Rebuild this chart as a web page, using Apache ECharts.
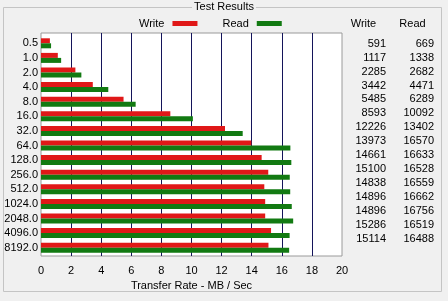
<!DOCTYPE html>
<html><head><meta charset="utf-8">
<script src="https://cdn.jsdelivr.net/npm/echarts@6/dist/echarts.min.js"></script>
<style>html,body{margin:0;padding:0;background:#f0f0f0}#c{width:448px;height:301px}</style>
</head><body><div id="c"></div>
<script>
const categories = ['0.5','1.0','2.0','4.0','8.0','16.0','32.0','64.0','128.0','256.0','512.0','1024.0','2048.0','4096.0','8192.0'];
const writeKB = [591,1117,2285,3442,5485,8593,12226,13973,14661,15100,14838,14896,14896,15286,15114];
const readKB  = [669,1338,2682,4471,6289,10092,13402,16570,16633,16528,16559,16662,16756,16519,16488];
const xTicks = [0,2,4,6,8,10,12,14,16,18,20];

const FONT = 'Liberation Sans';
const RED = '#e01818', GREEN = '#127a12';
const chart = echarts.init(document.getElementById('c'), null, {renderer:'canvas'});

const graphics = [
  {type:'rect', silent:true, shape:{x:3.5,y:7.5,width:438,height:284}, style:{fill:null, stroke:'#c4c4c4', lineWidth:1}},
  {type:'text', left:'center', x:0, top:1, style:{text:'Test Results', font:'11px '+FONT, fill:'#000', backgroundColor:'#f0f0f0', padding:[0,2]}, z:10},
  {type:'text', x:363.5, y:24, style:{text:'Write', font:'11px '+FONT, fill:'#000', align:'center', verticalAlign:'middle'}},
  {type:'text', x:412.5, y:24, style:{text:'Read', font:'11px '+FONT, fill:'#000', align:'center', verticalAlign:'middle'}}
];
for (let i = 0; i < categories.length; i++) {
  const y = 43.7 + i * 13.93;
  graphics.push({type:'text', x:386, y:y, style:{text:String(writeKB[i]), font:'11px '+FONT, fill:'#000', align:'right', verticalAlign:'middle'}});
  graphics.push({type:'text', x:434, y:y, style:{text:String(readKB[i]), font:'11px '+FONT, fill:'#000', align:'right', verticalAlign:'middle'}});
}

chart.setOption({
  backgroundColor:'#f0f0f0',
  animation:false,
  textStyle:{fontFamily:FONT},
  legend:{
    left:139, top:18, padding:0, align:'right', itemGap:25, itemWidth:25, itemHeight:5, icon:'rect',
    textStyle:{fontSize:11, color:'#000', fontFamily:FONT, padding:[0,3,0,0]},
    data:['Write','Read']
  },
  grid:[
    {left:41, top:33, width:301, height:223, show:true, backgroundColor:'#fff', borderColor:'#9a9a9a', borderWidth:1},
    {left:41, top:36, width:301, height:219}
  ],
  xAxis:[
    {gridIndex:0, type:'value', min:xTicks[0], max:xTicks[xTicks.length-1], interval:2,
     axisLine:{show:false}, axisTick:{show:false},
     axisLabel:{fontSize:11, color:'#000', margin:9, fontFamily:FONT, customValues:xTicks},
     splitLine:{show:true, showMinLine:false, showMaxLine:false, lineStyle:{color:'#14145a', width:1}},
     name:'Transfer Rate - MB / Sec', nameLocation:'middle', nameGap:22,
     nameTextStyle:{fontSize:11, color:'#000', fontFamily:FONT}},
    {gridIndex:1, type:'value', min:0, max:20, show:false}
  ],
  yAxis:[
    {gridIndex:0, type:'value', show:false},
    {gridIndex:1, type:'category', inverse:true, data:categories,
     axisLine:{show:false}, axisTick:{show:false}, splitLine:{show:false},
     axisLabel:{fontSize:11, color:'#000', margin:3, fontFamily:FONT}}
  ],
  series:[
    {name:'Write', type:'bar', xAxisIndex:1, yAxisIndex:1, barWidth:5, barGap:'0%', itemStyle:{color:RED}, data:writeKB.map(v=>v/1000)},
    {name:'Read', type:'bar', xAxisIndex:1, yAxisIndex:1, barWidth:5, barGap:'0%', itemStyle:{color:GREEN}, data:readKB.map(v=>v/1000)}
  ],
  graphic:graphics
});
</script></body></html>
